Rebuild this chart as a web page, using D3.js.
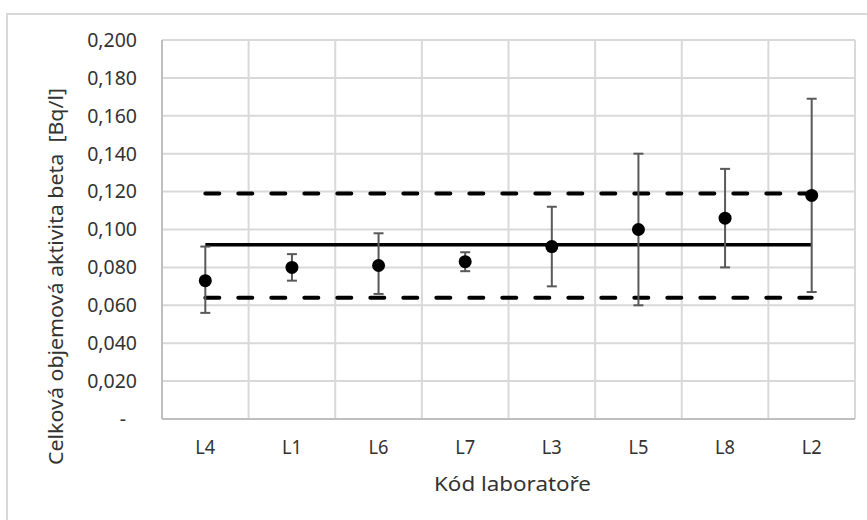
<!DOCTYPE html>
<meta charset="utf-8">
<style>
body { margin: 0; background: #fff; }
.grid line { stroke: #d9d9d9; stroke-width: 2px; }
.tick-y { font-family: "Noto Sans", sans-serif; font-size: 19.5px; fill: #333; }
.tick-x { font-family: "Noto Sans", sans-serif; font-size: 19px; fill: #333; }
.title { font-family: "Noto Sans", sans-serif; font-size: 19.5px; fill: #333; }
.errbar { stroke: #595959; stroke-width: 2px; fill: none; }
</style>
<svg width="867" height="520"></svg>
<script src="https://d3js.org/d3.v7.min.js"></script>
<script>

var labs = ["L4", "L1", "L6", "L7", "L3", "L5", "L8", "L2"];
var values = [0.073, 0.080, 0.081, 0.083, 0.091, 0.100, 0.106, 0.118];
var lower = [0.056, 0.073, 0.066, 0.078, 0.070, 0.060, 0.080, 0.067];
var upper = [0.091, 0.087, 0.098, 0.088, 0.112, 0.140, 0.132, 0.169];
var refMean = 0.092;
var refLow = 0.064;
var refHigh = 0.119;
var yTicks = [0, 0.02, 0.04, 0.06, 0.08, 0.10, 0.12, 0.14, 0.16, 0.18, 0.20];

var svg = d3.select("svg"),
    margin = {top: 40, left: 162, right: 12, bottom: 101},
    width = +svg.attr("width") - margin.left - margin.right,
    height = +svg.attr("height") - margin.top - margin.bottom;

var cz = d3.formatLocale({decimal: ",", thousands: " ", grouping: [3], currency: ["", " Kč"]});
var fmt = cz.format(".3f");

// outer chart frame
svg.append("rect")
    .attr("x", 7).attr("y", 14)
    .attr("width", 880).attr("height", 540)
    .attr("fill", "#fff")
    .attr("stroke", "#d9d9d9")
    .attr("stroke-width", 2);

var g = svg.append("g").attr("transform", "translate(" + margin.left + "," + margin.top + ")");

var x = d3.scaleBand().domain(labs).range([0, width]).padding(0);
var y = d3.scaleLinear().domain([0, 0.2]).range([height, 0]);
var cx = function(d) { return x(d) + x.bandwidth() / 2; };

// horizontal gridlines
g.append("g").attr("class", "grid")
  .selectAll("line")
  .data(yTicks.slice(1))
  .enter().append("line")
    .attr("x1", 0).attr("x2", width)
    .attr("y1", function(d) { return y(d); })
    .attr("y2", function(d) { return y(d); });

// vertical gridlines between categories
g.append("g").attr("class", "grid")
  .selectAll("line")
  .data(labs)
  .enter().append("line")
    .attr("x1", function(d) { return x(d) + x.step(); })
    .attr("x2", function(d) { return x(d) + x.step(); })
    .attr("y1", 0).attr("y2", height);

// axis lines
g.append("line").attr("x1", 0).attr("x2", 0).attr("y1", 0).attr("y2", height)
    .attr("stroke", "#bfbfbf").attr("stroke-width", 2);
g.append("line").attr("x1", 0).attr("x2", width).attr("y1", height).attr("y2", height)
    .attr("stroke", "#bfbfbf").attr("stroke-width", 2);

// y tick labels
g.selectAll("text.tick-y")
  .data(yTicks)
  .enter().append("text")
    .attr("class", "tick-y")
    .attr("x", -25)
    .attr("y", function(d) { return y(d); })
    .attr("dy", "0.35em")
    .attr("text-anchor", "end")
    .attr("dx", function(d) { return d === 0 ? -11 : 0; })
    .text(function(d) { return d === 0 ? "-" : fmt(d); });

// x tick labels
g.selectAll("text.tick-x")
  .data(labs)
  .enter().append("text")
    .attr("class", "tick-x")
    .attr("x", cx)
    .attr("y", height + 35)
    .attr("text-anchor", "middle")
    .attr("textLength", 20)
    .attr("lengthAdjust", "spacingAndGlyphs")
    .text(function(d) { return d; });

// axis titles
g.append("text")
    .attr("class", "title")
    .attr("x", width / 2 + 4)
    .attr("y", height + 72)
    .attr("text-anchor", "middle")
    .attr("textLength", 157)
    .attr("lengthAdjust", "spacingAndGlyphs")
    .style("font-size", "20px")
    .text("Kód laboratoře");

g.append("text")
    .attr("class", "title")
    .attr("transform", "translate(" + (-99) + "," + (height / 2 + 47) + ") rotate(-90)")
    .attr("text-anchor", "middle")
    .attr("textLength", 377)
    .attr("lengthAdjust", "spacingAndGlyphs")
    .style("white-space", "pre")
    .text("Celková objemová aktivita beta  [Bq/l]");

// reference lines
var x0 = cx(labs[0]), x1 = cx(labs[labs.length - 1]);
[refHigh, refLow].forEach(function(v) {
  g.append("line")
      .attr("x1", x0).attr("x2", x1)
      .attr("y1", y(v)).attr("y2", y(v))
      .attr("stroke", "#000")
      .attr("stroke-width", 4)
      .attr("stroke-linecap", "round")
      .attr("stroke-dasharray", "14,19");
});
g.append("line")
    .attr("x1", x0).attr("x2", x1)
    .attr("y1", y(refMean)).attr("y2", y(refMean))
    .attr("stroke", "#000")
    .attr("stroke-width", 3.5);

// error bars
var eb = g.selectAll("g.eb")
  .data(labs)
  .enter().append("g").attr("class", "errbar");
eb.append("line")
    .attr("x1", cx).attr("x2", cx)
    .attr("y1", function(d, i) { return y(lower[i]); })
    .attr("y2", function(d, i) { return y(upper[i]); });
eb.append("line")
    .attr("x1", function(d) { return cx(d) - 5; }).attr("x2", function(d) { return cx(d) + 5; })
    .attr("y1", function(d, i) { return y(lower[i]); })
    .attr("y2", function(d, i) { return y(lower[i]); });
eb.append("line")
    .attr("x1", function(d) { return cx(d) - 5; }).attr("x2", function(d) { return cx(d) + 5; })
    .attr("y1", function(d, i) { return y(upper[i]); })
    .attr("y2", function(d, i) { return y(upper[i]); });

// points
g.selectAll("circle.pt")
  .data(labs)
  .enter().append("circle")
    .attr("class", "pt")
    .attr("cx", cx)
    .attr("cy", function(d, i) { return y(values[i]); })
    .attr("r", 6.5)
    .attr("fill", "#000");

</script>
